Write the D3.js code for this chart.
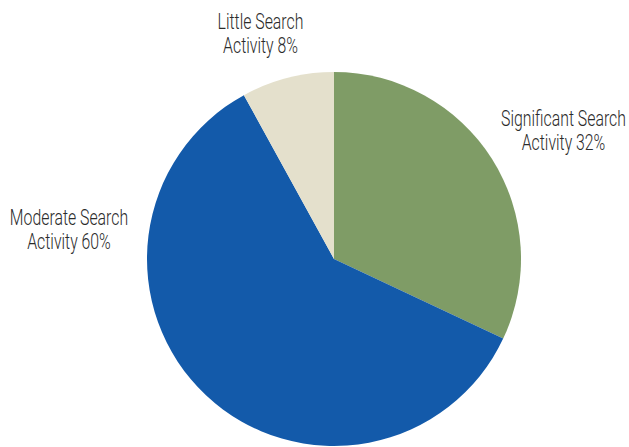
<!DOCTYPE html>
<html>
<head>
<meta charset="utf-8">
<script src="https://cdn.jsdelivr.net/npm/d3@7/dist/d3.min.js"></script>
<style>
  html, body { margin: 0; padding: 0; background: #fff; }
  svg { display: block; }
  .lbl { font-family: Roboto, "Liberation Sans", sans-serif; font-weight: 300; font-size: 22px; fill: #2b2b2b; }
</style>
</head>
<body>
<svg id="chart" width="629" height="447"></svg>
<script>
// Share of search activity, clockwise from 12 o'clock
const categories = ["Significant Search", "Moderate Search", "Little Search"];
const values = [32, 60, 8];
const colors = ["#7f9c66", "#135aaa", "#e4e0cc"];
// label centre x and first baseline y
const labelX = [563.5, 69, 260.5];
const labelY = [126, 225, 29];

const cx = 334, cy = 259, radius = 187;
const condense = 0.72; // horizontal squeeze for a condensed look

const svg = d3.select("#chart");
const data = categories.map((c, i) => ({ name: c, value: values[i], color: colors[i] }));

const pie = d3.pie().value(d => d.value).sort(null);
const arc = d3.arc().innerRadius(0).outerRadius(radius);

const g = svg.append("g").attr("transform", `translate(${cx},${cy})`);
g.selectAll("path")
  .data(pie(data))
  .join("path")
  .attr("d", arc)
  .attr("fill", d => d.data.color);

const labels = svg.selectAll("g.label")
  .data(data)
  .join("g")
  .attr("class", "label")
  .attr("transform", (d, i) => `translate(${labelX[i]},${labelY[i]}) scale(${condense},1)`)
  .append("text")
  .attr("class", "lbl")
  .attr("text-anchor", "middle");

labels.append("tspan")
  .attr("x", 0)
  .attr("y", 0)
  .text(d => d.name);
labels.append("tspan")
  .attr("x", 0)
  .attr("y", 24.3)
  .text(d => `Activity ${d.value}%`);
</script>
</body>
</html>
